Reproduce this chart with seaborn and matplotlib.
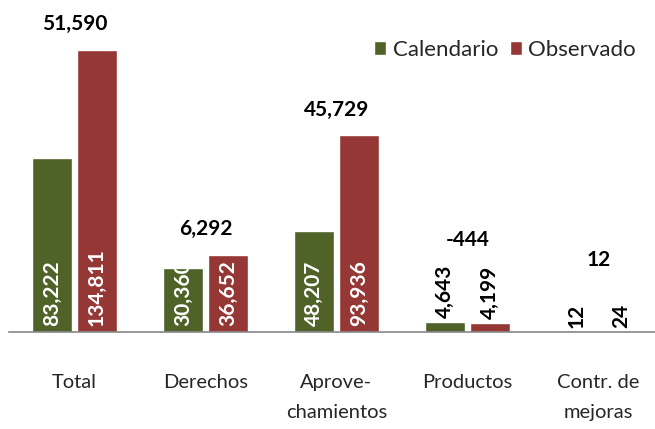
import matplotlib
matplotlib.use("Agg")
import matplotlib.pyplot as plt
import seaborn as sns
import pandas as pd
import numpy as np

categories = ["Total", "Derechos", "Aprove-\nchamientos", "Productos", "Contr. de\nmejoras"]
calendario = [83222, 30360, 48207, 4643, 12]
observado = [134811, 36652, 93936, 4199, 24]
diferencia = [51590, 6292, 45729, -444, 12]
series = ["Calendario", "Observado"]
colors = ["#4F6228", "#953735"]

sns.set_theme(style="white")
plt.rcParams["font.family"] = ["Lato", "DejaVu Sans"]

df = pd.DataFrame({
    "cat": categories * 2,
    "val": calendario + observado,
    "serie": [series[0]] * len(categories) + [series[1]] * len(categories),
})

W, H = 655, 429
fig = plt.figure(figsize=(W / 100, H / 100), dpi=100)
ax = fig.add_axes([9 / W, (H - 332) / H, (664 - 9) / W, 332 / H])

sns.barplot(data=df, x="cat", y="val", hue="serie", palette=colors,
            saturation=1, width=0.68, gap=0.1, ax=ax, legend=True)

ymax = 158700
ax.set_ylim(0, ymax)
ax.set_xlim(-0.5, len(categories) - 0.5)
px = ymax / 332.0  # data units per pixel

for s in ["top", "right", "left"]:
    ax.spines[s].set_visible(False)
ax.spines["bottom"].set_color("#868686")
ax.spines["bottom"].set_linewidth(1.2)
ax.set_yticks([])
ax.set_xlabel("")
ax.set_ylabel("")
ax.set_xticks(np.arange(len(categories)))
ax.set_xticklabels(categories, fontsize=14.5, linespacing=1.95, va="top")
ax.set_xticks(np.arange(-0.5, len(categories)), minor=True)
ax.tick_params(axis="x", which="major", length=0, pad=30)
ax.tick_params(axis="x", which="minor", length=7.5, width=1.2, color="#868686")

lab_fs = 15
tops = [0.0] * len(categories)
for cont, vals in zip(ax.containers, [calendario, observado]):
    for i, (bar, v) in enumerate(zip(cont, vals)):
        xc = bar.get_x() + bar.get_width() / 2
        txt = f"{v:,}"
        if v > 20000:
            ax.text(xc, 6 * px, txt, rotation=90, ha="center", va="bottom",
                    color="white", fontsize=lab_fs, fontweight="bold")
            tops[i] = max(tops[i], v)
        else:
            ax.text(xc, v + 4 * px, txt, rotation=90, ha="center", va="bottom",
                    color="black", fontsize=lab_fs, fontweight="bold")
            tops[i] = max(tops[i], v + 4 * px + max(len(txt), 4) * 10.5 * px)

for i, d in enumerate(diferencia):
    ax.text(i, tops[i] + 26 * px, f"{d:,}", ha="center", va="center",
            color="black", fontsize=lab_fs, fontweight="bold")

ax.legend(loc="upper right", bbox_to_anchor=(645 / W, 1 - 31 / H),
          bbox_transform=fig.transFigure, frameon=False, fontsize=16,
          handlelength=0.55, handleheight=0.55, handletextpad=0.3,
          columnspacing=0.5, ncol=2, borderaxespad=0)

fig.savefig("out.png", dpi=100)
